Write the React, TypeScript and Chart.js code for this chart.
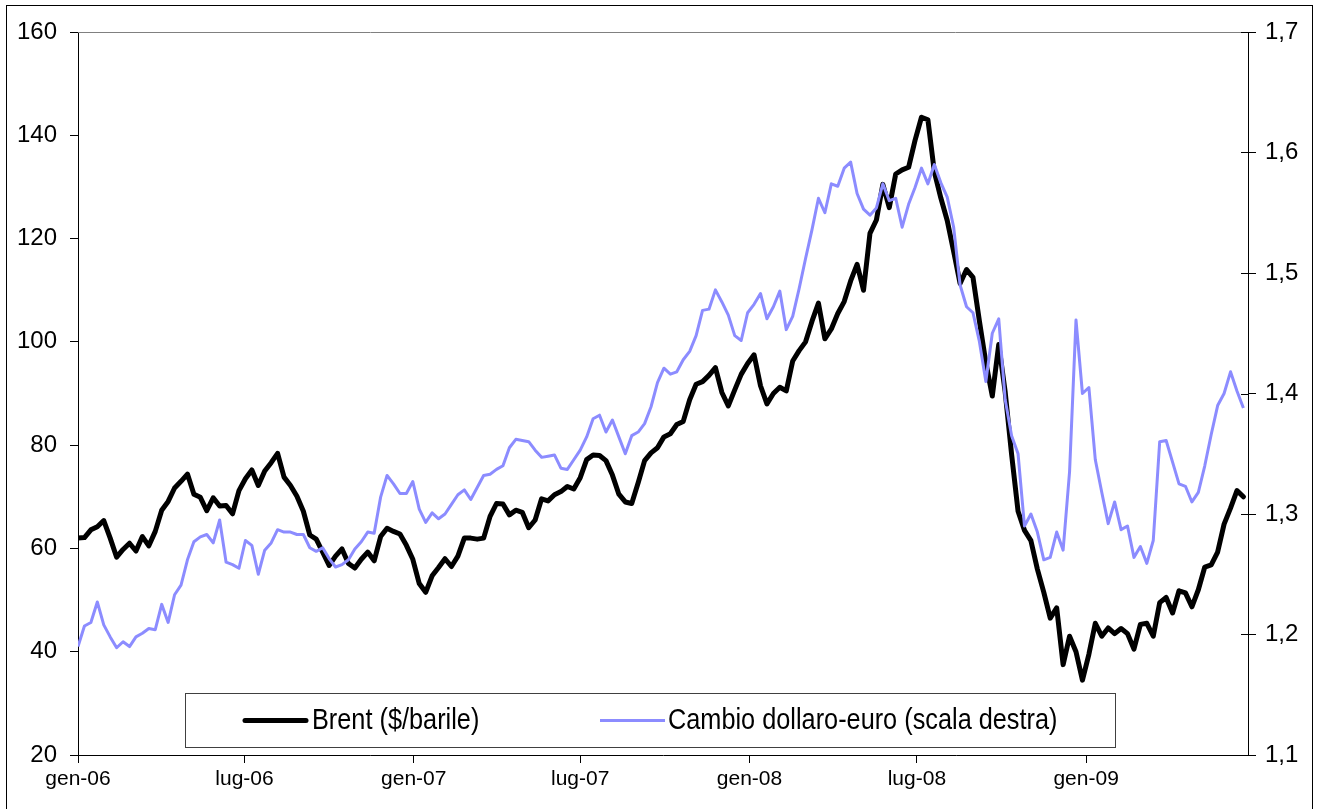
import React, { useEffect, useRef } from 'react';
import Chart from 'chart.js/auto';

// x axis: days since 1 Jan 2006, weekly observations
const TICK_DAYS = [0, 181, 365, 546, 730, 912, 1096];
const TICK_LABELS = ['gen-06', 'lug-06', 'gen-07', 'lug-07', 'gen-08', 'lug-08', 'gen-09'];
const DAYS_PER_POINT = 7;
const X_MAX_DAY = 1272;

const SERIES_NAMES = ['Brent ($/barile)', 'Cambio dollaro-euro (scala destra)'];

// Brent, $/barile (left scale)
const BRENT = [
  62, 62.1, 63.6, 64.2, 65.4, 62, 58.3, 59.8, 61, 59.5,
  62.3, 60.5, 63.3, 67.4, 69.1, 71.7, 73, 74.4, 70.5, 69.9,
  67.3, 69.8, 68.2, 68.3, 66.7, 71.2, 73.5, 75.2, 72.2, 75,
  76.6, 78.4, 73.8, 72.2, 70.1, 67.2, 62.6, 61.8, 59.3, 56.7,
  58.5, 59.9, 57.1, 56.2, 57.9, 59.3, 57.6, 62.3, 63.9, 63.3,
  62.8, 60.6, 57.9, 53.2, 51.5, 54.7, 56.3, 58, 56.5, 58.5,
  62, 62, 61.8, 62, 66.2, 68.7, 68.6, 66.5, 67.4, 67,
  64, 65.5, 69.6, 69.2, 70.4, 71, 72, 71.5, 73.7, 77.2,
  78.1, 78, 77, 74.2, 70.5, 69, 68.7, 72.7, 77, 78.5,
  79.5, 81.6, 82.2, 84, 84.6, 88.8, 91.8, 92.3, 93.5, 95,
  90.2, 87.6, 90.7, 93.7, 95.8, 97.5, 91.5, 88, 90, 91.2,
  90.5, 96.3, 98.3, 100, 104, 107.5, 100.6, 102.5, 105.5, 107.8,
  111.8, 115, 110, 121, 123.6, 130.5, 126, 132.5, 133.3, 133.8,
  139, 143.5, 143, 132.9, 127.9, 123.5, 117.5, 111.3, 114, 112.5,
  104, 96, 89.5, 99.5, 90.3, 78.2, 67.2, 63.5, 61.5, 56,
  51.5, 46.5, 48.5, 37.5, 43, 40, 34.5, 39.5, 45.5, 43,
  44.6, 43.5, 44.5, 43.5, 40.5, 45.3, 45.5, 43, 49.5, 50.5,
  47.5, 51.8, 51.4, 48.7, 52, 56.4, 56.8, 59.3, 64.7, 67.8,
  71.2, 70,
];

// Cambio dollaro-euro (right scale)
const EURUSD = [
  1.19, 1.207, 1.21, 1.227, 1.208, 1.198, 1.189, 1.194, 1.19, 1.198,
  1.201, 1.205, 1.204, 1.225, 1.21, 1.233, 1.241, 1.262, 1.277, 1.281,
  1.283, 1.276, 1.295, 1.26, 1.258, 1.255, 1.278, 1.274, 1.25, 1.27,
  1.276, 1.287, 1.285, 1.285, 1.283, 1.283, 1.272, 1.269, 1.272, 1.263,
  1.256, 1.258, 1.262, 1.271, 1.277, 1.285, 1.284, 1.314, 1.332, 1.325,
  1.317, 1.317, 1.327, 1.304, 1.293, 1.301, 1.296, 1.3, 1.308, 1.316,
  1.32, 1.312, 1.322, 1.332, 1.333, 1.337, 1.34, 1.355, 1.362, 1.361,
  1.36, 1.353, 1.347, 1.348, 1.349, 1.338, 1.337, 1.345, 1.353, 1.364,
  1.379, 1.382, 1.368, 1.378, 1.364, 1.35, 1.365, 1.368, 1.375, 1.389,
  1.409, 1.421, 1.416, 1.418, 1.428, 1.435, 1.448, 1.469, 1.47, 1.486,
  1.476, 1.465, 1.448, 1.444, 1.467, 1.474, 1.483, 1.462, 1.472, 1.485,
  1.453, 1.464, 1.487, 1.512, 1.536, 1.562, 1.55, 1.574, 1.572, 1.587,
  1.592, 1.566, 1.553, 1.548, 1.554, 1.574, 1.56, 1.562, 1.538, 1.557,
  1.571, 1.587, 1.574, 1.59, 1.575, 1.563, 1.538, 1.49, 1.472, 1.467,
  1.443, 1.41, 1.45, 1.462, 1.395, 1.365, 1.35, 1.29, 1.3, 1.285,
  1.262, 1.264, 1.285, 1.27, 1.335, 1.461, 1.4, 1.405, 1.345, 1.318,
  1.292, 1.31, 1.287, 1.29, 1.264, 1.273, 1.259, 1.278, 1.36, 1.361,
  1.343, 1.325, 1.323, 1.31, 1.318, 1.34, 1.366, 1.39, 1.4, 1.418,
  1.402, 1.388,
];

const LEFT_MIN = 20;
const LEFT_MAX = 160;
const LEFT_STEP = 20;
const RIGHT_MIN = 1.1;
const RIGHT_MAX = 1.7;
const RIGHT_STEP = 0.1;

const BLACK = '#000000';
const BLUE = '#8C8CFF';
const FONT = '"Liberation Sans", Arial, sans-serif';

function drawStretchedText(ctx: CanvasRenderingContext2D, text: string, x: number, y: number) {
  ctx.save();
  ctx.translate(x, y);
  ctx.scale(1, 1.15);
  ctx.fillText(text, 0, 0);
  ctx.restore();
}

const decorPlugin = {
  id: 'decor',
  beforeDatasetsDraw(chart: any) {
    const { ctx, chartArea } = chart;
    ctx.save();
    ctx.strokeStyle = '#808080';
    ctx.lineWidth = 1;
    ctx.beginPath();
    ctx.moveTo(chartArea.left, chartArea.top + 0.5);
    ctx.lineTo(chartArea.right, chartArea.top + 0.5);
    ctx.stroke();
    // inner half of right-axis tick marks
    const y1 = chart.scales.y1;
    ctx.strokeStyle = BLACK;
    ctx.beginPath();
    y1.ticks.forEach((t: any) => {
      const py = Math.round(y1.getPixelForValue(t.value)) + 0.5;
      ctx.moveTo(chartArea.right - 7, py);
      ctx.lineTo(chartArea.right, py);
    });
    ctx.stroke();
    ctx.restore();
  },
  afterDraw(chart: any) {
    const { ctx } = chart;
    ctx.save();
    // outer frame
    ctx.strokeStyle = BLACK;
    ctx.lineWidth = 1;
    ctx.strokeRect(6.5, 5.5, 1306, 812);
    // legend box
    const bx = 185.5, by = 693.5, bw = 930, bh = 54;
    ctx.fillStyle = '#FFFFFF';
    ctx.fillRect(bx, by, bw, bh);
    ctx.strokeStyle = '#404040';
    ctx.strokeRect(bx, by, bw, bh);
    const cy = by + bh / 2;
    ctx.font = `25.3px ${FONT}`;
    ctx.textBaseline = 'middle';
    ctx.textAlign = 'left';
    ctx.fillStyle = BLACK;
    // entry 1
    ctx.strokeStyle = BLACK;
    ctx.lineWidth = 5;
    ctx.lineCap = 'round';
    ctx.beginPath();
    ctx.moveTo(245, cy);
    ctx.lineTo(306, cy);
    ctx.stroke();
    drawStretchedText(ctx, SERIES_NAMES[0], 312, cy);
    // entry 2
    ctx.strokeStyle = BLUE;
    ctx.lineWidth = 3;
    ctx.lineCap = 'butt';
    ctx.beginPath();
    ctx.moveTo(600, cy);
    ctx.lineTo(665, cy);
    ctx.stroke();
    drawStretchedText(ctx, SERIES_NAMES[1], 668, cy);
    ctx.restore();
  },
};

export default function App() {
  const ref = useRef<HTMLCanvasElement | null>(null);
  useEffect(() => {
    if (!ref.current) return;
    const axisGrid = { drawOnChartArea: false, drawTicks: true, tickLength: 8, color: BLACK, lineWidth: 1 };
    const axisBorder = { display: true, color: BLACK, width: 1 };
    const chart = new Chart(ref.current, {
      type: 'line',
      data: {
        datasets: [
          {
            label: SERIES_NAMES[1],
            data: EURUSD.map((v, i) => ({ x: i * DAYS_PER_POINT, y: v })),
            yAxisID: 'y1',
            borderColor: BLUE,
            borderWidth: 3,
            pointRadius: 0,
            borderJoinStyle: 'round',
            order: 0,
          },
          {
            label: SERIES_NAMES[0],
            data: BRENT.map((v, i) => ({ x: i * DAYS_PER_POINT, y: v })),
            yAxisID: 'y',
            borderColor: BLACK,
            borderWidth: 5,
            pointRadius: 0,
            borderJoinStyle: 'round',
            borderCapStyle: 'round',
            order: 1,
          },
        ],
      },
      options: {
        responsive: false,
        animation: false,
        devicePixelRatio: 1,
        layout: { padding: { top: 32, left: 0, right: 0, bottom: 0 } },
        plugins: { legend: { display: false }, tooltip: { enabled: false } },
        elements: { point: { radius: 0 }, line: { tension: 0 } },
        scales: {
          x: {
            type: 'linear',
            min: 0,
            max: X_MAX_DAY,
            afterBuildTicks: (s: any) => {
              s.ticks = TICK_DAYS.map((v) => ({ value: v }));
            },
            afterFit: (s: any) => {
              s.height = 54;
            },
            ticks: {
              autoSkip: false,
              maxRotation: 0,
              minRotation: 0,
              padding: 4,
              color: BLACK,
              font: { family: FONT, size: 21 },
              callback: (_v: any, i: number) => TICK_LABELS[i],
            },
            grid: axisGrid,
            border: axisBorder,
          },
          y: {
            position: 'left',
            min: LEFT_MIN,
            max: LEFT_MAX,
            afterFit: (s: any) => {
              s.width = 78;
            },
            ticks: {
              stepSize: LEFT_STEP,
              padding: 13,
              color: BLACK,
              font: { family: FONT, size: 24 },
            },
            grid: axisGrid,
            border: axisBorder,
          },
          y1: {
            position: 'right',
            min: RIGHT_MIN,
            max: RIGHT_MAX,
            afterFit: (s: any) => {
              s.width = 70;
            },
            ticks: {
              stepSize: RIGHT_STEP,
              padding: 9,
              color: BLACK,
              font: { family: FONT, size: 24 },
              callback: (v: any) => Number(v).toFixed(1).replace('.', ','),
            },
            grid: axisGrid,
            border: axisBorder,
          },
        },
      } as any,
      plugins: [decorPlugin],
    });
    return () => chart.destroy();
  }, []);
  return (
    <div style={{ position: 'absolute', left: 0, top: 0, width: 1318, height: 809, background: '#fff' }}>
      <canvas ref={ref} width={1318} height={809} style={{ display: 'block' }} />
    </div>
  );
}
